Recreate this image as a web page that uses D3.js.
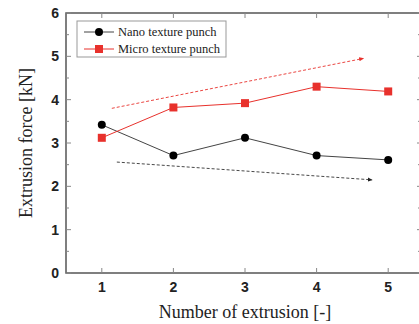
<!DOCTYPE html>
<html lang="en">
<meta charset="utf-8">
<title>Extrusion force</title>
<style>
  body { margin: 0; background: #fff; }
  svg { display: block; }
</style>
<body>
<script src="https://d3js.org/d3.v7.min.js"></script>
<script>
  // data
  var extrusions = [1, 2, 3, 4, 5];
  var nanoForce = [3.42, 2.71, 3.12, 2.71, 2.61];
  var microForce = [3.12, 3.82, 3.92, 4.30, 4.19];
  var nanoTrend = [[1.21, 2.56], [4.77, 2.15]];
  var microTrend = [[1.14, 3.80], [4.65, 4.95]];
  var yTicks = [0, 1, 2, 3, 4, 5, 6];
  var seriesNames = ["Nano texture punch", "Micro texture punch"];

  var W = 419, H = 324;
  var plotL = 66, plotT = 13, plotR = 424, plotB = 273;

  var x = d3.scaleLinear().domain([0.5, 5.5]).range([plotL, plotR]);
  var y = d3.scaleLinear().domain([0, 6]).range([plotB, plotT]);

  var svg = d3.select("body").append("svg")
    .attr("width", W)
    .attr("height", H);

  var red = "#e8312c";

  // arrow heads
  var defs = svg.append("defs");
  [["arrBlack", "#222"], ["arrRed", red]].forEach(function(a) {
    defs.append("marker")
      .attr("id", a[0])
      .attr("viewBox", "0 0 10 10")
      .attr("refX", 8).attr("refY", 5)
      .attr("markerWidth", 5).attr("markerHeight", 5)
      .attr("markerUnits", "userSpaceOnUse")
      .attr("orient", "auto")
      .append("path")
      .attr("d", "M0,1 L10,5 L0,9 Z")
      .attr("fill", a[1]);
  });

  // frame
  svg.append("rect")
    .attr("x", plotL).attr("y", plotT)
    .attr("width", plotR - plotL).attr("height", plotB - plotT)
    .attr("fill", "none")
    .attr("stroke", "#555")
    .attr("stroke-width", 1.5);

  // ticks (inward, mirrored on the opposite sides)
  var yMinor = d3.range(0.5, 6, 1);
  var tickG = svg.append("g").attr("stroke", "#888").attr("stroke-width", 1);
  yTicks.forEach(function(v) {
    tickG.append("line").attr("x1", plotL).attr("x2", plotL + 5).attr("y1", y(v)).attr("y2", y(v));
    tickG.append("line").attr("x1", plotR).attr("x2", plotR - 7).attr("y1", y(v)).attr("y2", y(v));
  });
  yMinor.forEach(function(v) {
    tickG.append("line").attr("x1", plotL).attr("x2", plotL + 3).attr("y1", y(v)).attr("y2", y(v));
    tickG.append("line").attr("x1", plotR).attr("x2", plotR - 6).attr("y1", y(v)).attr("y2", y(v));
  });
  extrusions.forEach(function(v) {
    tickG.append("line").attr("x1", x(v)).attr("x2", x(v)).attr("y1", plotB).attr("y2", plotB - 5);
    tickG.append("line").attr("x1", x(v)).attr("x2", x(v)).attr("y1", plotT).attr("y2", plotT + 5);
  });

  // tick labels
  svg.append("g")
    .selectAll("text")
    .data(yTicks)
    .join("text")
    .attr("x", plotL - 7)
    .attr("y", function(d) { return y(d); })
    .attr("dy", "0.36em")
    .attr("text-anchor", "end")
    .attr("font-family", "Liberation Sans, Arial, sans-serif")
    .attr("font-weight", "bold")
    .attr("font-size", 14)
    .attr("fill", "#222")
    .text(function(d) { return d; });

  svg.append("g")
    .selectAll("text")
    .data(extrusions)
    .join("text")
    .attr("x", function(d) { return x(d); })
    .attr("y", plotB + 19)
    .attr("text-anchor", "middle")
    .attr("font-family", "Liberation Sans, Arial, sans-serif")
    .attr("font-weight", "bold")
    .attr("font-size", 14)
    .attr("fill", "#222")
    .text(function(d) { return d; });

  // axis titles
  svg.append("text")
    .attr("x", 245)
    .attr("y", 318)
    .attr("text-anchor", "middle")
    .attr("font-family", "Liberation Serif, Times New Roman, serif")
    .attr("font-size", 18)
    .attr("fill", "#222")
    .text("Number of extrusion [-]");

  svg.append("text")
    .attr("transform", "translate(32," + ((plotT + plotB) / 2) + ") rotate(-90)")
    .attr("text-anchor", "middle")
    .attr("font-family", "Liberation Serif, Times New Roman, serif")
    .attr("font-size", 18)
    .attr("fill", "#222")
    .text("Extrusion force [kN]");

  // trend arrows
  var line = d3.line()
    .x(function(d) { return x(d[0]); })
    .y(function(d) { return y(d[1]); });

  svg.append("path")
    .datum(microTrend)
    .attr("d", line)
    .attr("fill", "none")
    .attr("stroke", red)
    .attr("stroke-width", 0.9)
    .attr("stroke-dasharray", "3,2")
    .attr("marker-end", "url(#arrRed)");

  svg.append("path")
    .datum(nanoTrend)
    .attr("d", line)
    .attr("fill", "none")
    .attr("stroke", "#333")
    .attr("stroke-width", 0.9)
    .attr("stroke-dasharray", "3,2")
    .attr("marker-end", "url(#arrBlack)");

  // series
  var nanoData = extrusions.map(function(e, i) { return [e, nanoForce[i]]; });
  var microData = extrusions.map(function(e, i) { return [e, microForce[i]]; });

  svg.append("path")
    .datum(nanoData)
    .attr("d", line)
    .attr("fill", "none")
    .attr("stroke", "#444")
    .attr("stroke-width", 1);

  svg.append("path")
    .datum(microData)
    .attr("d", line)
    .attr("fill", "none")
    .attr("stroke", red)
    .attr("stroke-width", 1);

  svg.append("g")
    .selectAll("circle")
    .data(nanoData)
    .join("circle")
    .attr("cx", function(d) { return x(d[0]); })
    .attr("cy", function(d) { return y(d[1]); })
    .attr("r", 4)
    .attr("fill", "#000");

  svg.append("g")
    .selectAll("rect")
    .data(microData)
    .join("rect")
    .attr("x", function(d) { return x(d[0]) - 4; })
    .attr("y", function(d) { return y(d[1]) - 4; })
    .attr("width", 8)
    .attr("height", 8)
    .attr("fill", red);

  // legend
  var lg = svg.append("g").attr("transform", "translate(77,21)");
  lg.append("rect")
    .attr("width", 149).attr("height", 36)
    .attr("fill", "#fff")
    .attr("stroke", "#999")
    .attr("stroke-width", 1);

  seriesNames.forEach(function(name, i) {
    var yy = 11 + i * 17;
    var col = i === 0 ? "#444" : red;
    lg.append("line")
      .attr("x1", 7).attr("x2", 37)
      .attr("y1", yy).attr("y2", yy)
      .attr("stroke", col).attr("stroke-width", 1);
    if (i === 0) {
      lg.append("circle").attr("cx", 22).attr("cy", yy).attr("r", 4).attr("fill", "#000");
    } else {
      lg.append("rect").attr("x", 18).attr("y", yy - 4).attr("width", 8).attr("height", 8).attr("fill", red);
    }
    lg.append("text")
      .attr("x", 41)
      .attr("y", yy)
      .attr("dy", "0.35em")
      .attr("font-family", "Liberation Serif, Times New Roman, serif")
      .attr("font-size", 12.5)
      .attr("fill", "#222")
      .text(name);
  });
</script>
</body>
